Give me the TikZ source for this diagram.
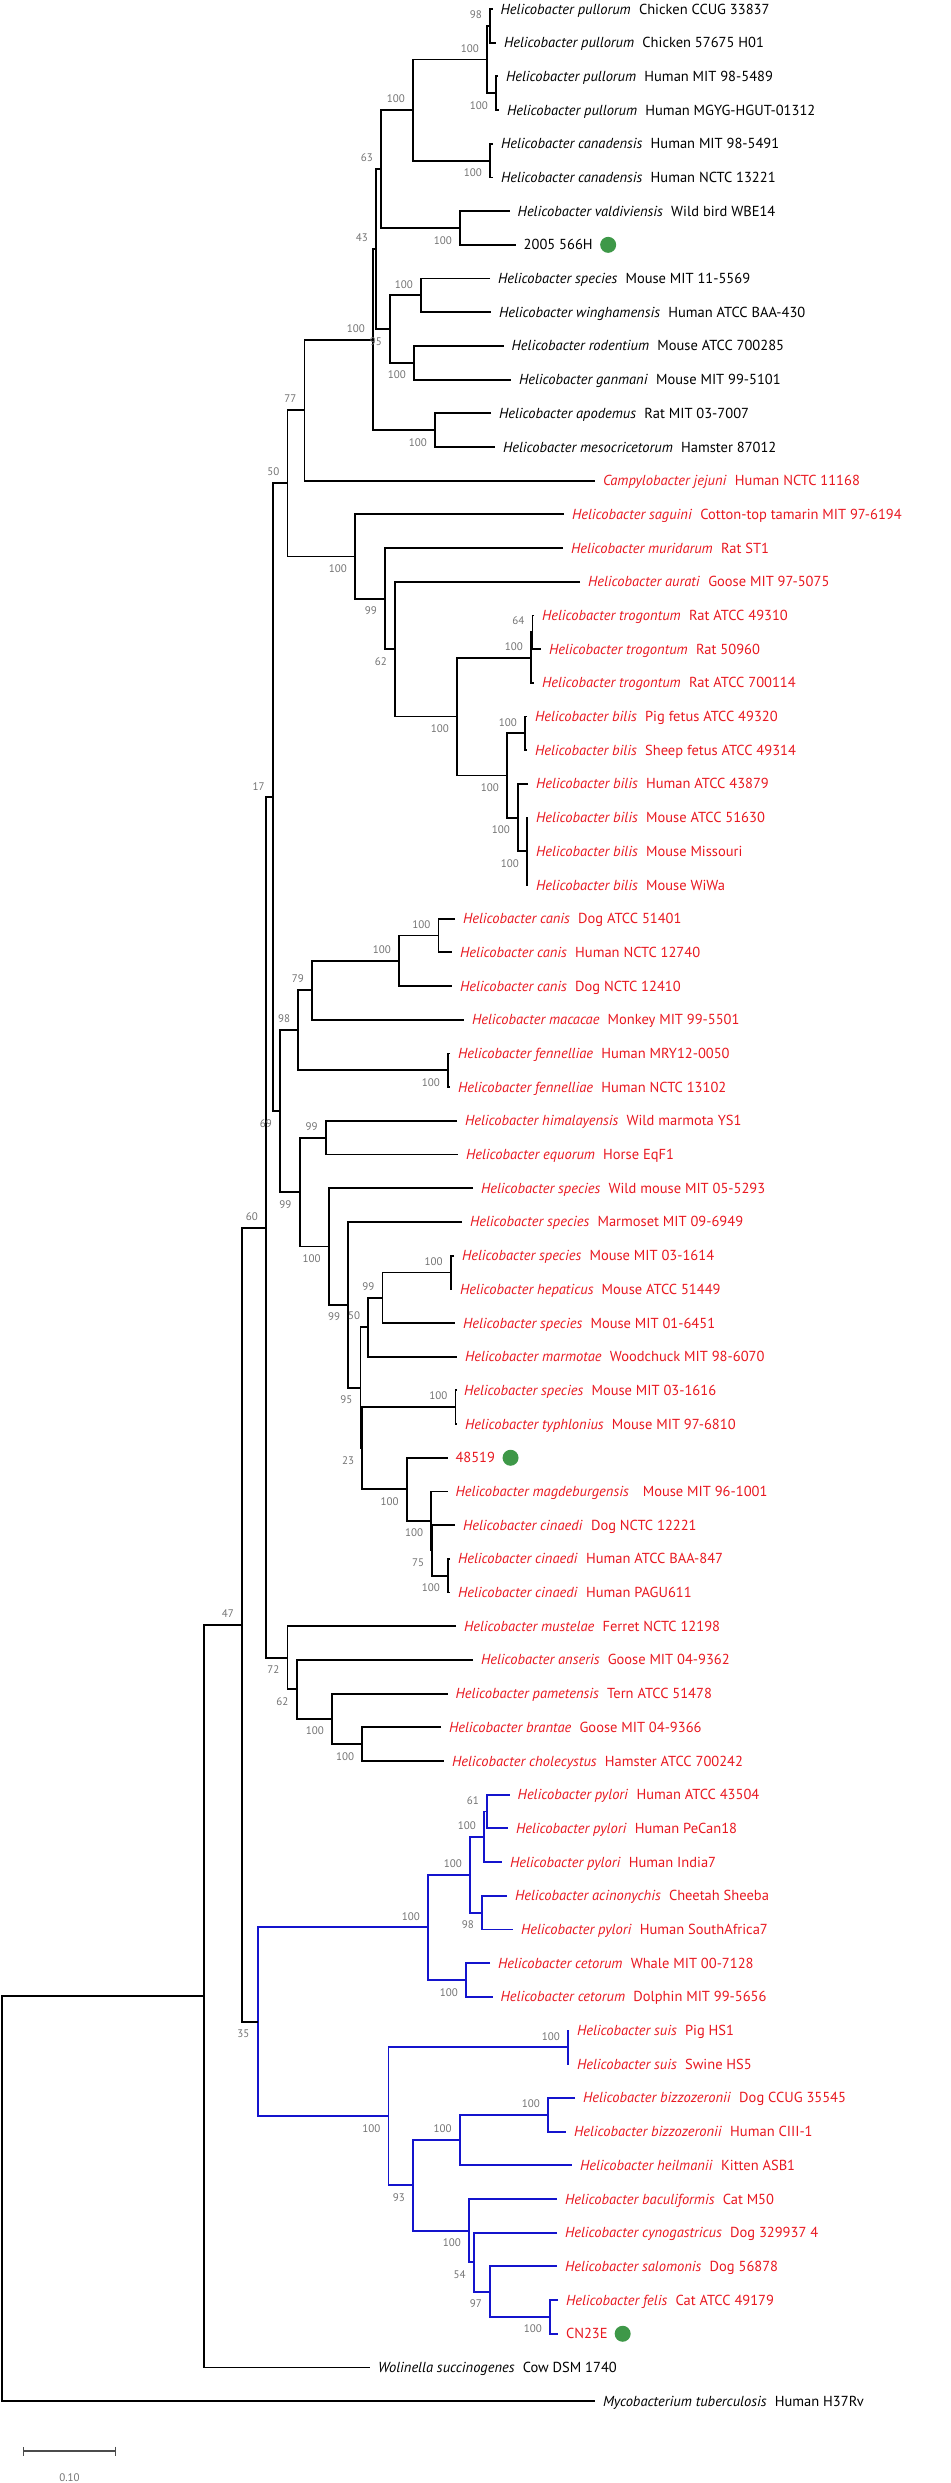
\documentclass[tikz,border=0pt]{standalone}
\usepackage{fontspec}
\setmainfont{PT Sans}
\usetikzlibrary{arrows.meta}
\definecolor{leafred}{RGB}{232,24,32}
\definecolor{cladeblue}{RGB}{20,20,205}
\definecolor{bsgray}{RGB}{115,115,115}
\definecolor{dotgreen}{RGB}{62,152,72}
\newcommand{\spn}[1]{\textit{#1}\hspace{0.3em}}
\begin{document}
\begin{tikzpicture}[x=1pt,y=-33.69pt,
  br/.style={line width=1.9pt},
  bbr/.style={br,cladeblue},
  leaf/.style={anchor=west,inner sep=0pt,outer xsep=8pt,outer ysep=0pt,text height=10pt,text depth=0pt,font=\fontsize{14.5}{16}\selectfont},
  rleaf/.style={leaf,text=leafred},
  bsbase/.style={inner sep=0pt,text=bsgray,font=\fontsize{11}{12}\selectfont},
  bsu/.style={bsbase,anchor=south east,xshift=-8pt,yshift=7pt},
  bsd/.style={bsbase,anchor=north east,xshift=-8pt,yshift=-8pt},
  gdot/.style={circle,fill=dotgreen,minimum size=16pt,inner sep=0pt},
  sbar/.style={line width=1.2pt,black!70,{Bar[width=9pt]}-{Bar[width=9pt]}}]
\useasboundingbox (0,0.733) rectangle (950,74.43);

% leaves
\node[leaf] (L1) at (492.6,1) {\spn{Helicobacter pullorum} Chicken CCUG 33837};
\node[leaf] (L2) at (496,2) {\spn{Helicobacter pullorum} Chicken 57675 H01};
\node[leaf] (L3) at (498,3) {\spn{Helicobacter pullorum} Human MIT 98-5489};
\node[leaf] (L4) at (499,4) {\spn{Helicobacter pullorum} Human MGYG-HGUT-01312};
\node[leaf] (L5) at (493,5) {\spn{Helicobacter canadensis} Human MIT 98-5491};
\node[leaf] (L6) at (493,6) {\spn{Helicobacter canadensis} Human NCTC 13221};
\node[leaf] (L7) at (509.7,7) {\spn{Helicobacter valdiviensis} Wild bird WBE14};
\node[leaf] (L8) at (515.7,8) {2005 566H};
\node[leaf] (L9) at (490,9) {\spn{Helicobacter species} Mouse MIT 11-5569};
\node[leaf] (L10) at (491,10) {\spn{Helicobacter winghamensis} Human ATCC BAA-430};
\node[leaf] (L11) at (503.6,11) {\spn{Helicobacter rodentium} Mouse ATCC 700285};
\node[leaf] (L12) at (511,12) {\spn{Helicobacter ganmani} Mouse MIT 99-5101};
\node[leaf] (L13) at (491,13) {\spn{Helicobacter apodemus} Rat MIT 03-7007};
\node[leaf] (L14) at (495,14) {\spn{Helicobacter mesocricetorum} Hamster 87012};
\node[rleaf] (L15) at (595,15) {\spn{Campylobacter jejuni} Human NCTC 11168};
\node[rleaf] (L16) at (564,16) {\spn{Helicobacter saguini} Cotton-top tamarin MIT 97-6194};
\node[rleaf] (L17) at (563,17) {\spn{Helicobacter muridarum} Rat ST1};
\node[rleaf] (L18) at (580,18) {\spn{Helicobacter aurati} Goose MIT 97-5075};
\node[rleaf] (L19) at (534,19) {\spn{Helicobacter trogontum} Rat ATCC 49310};
\node[rleaf] (L20) at (541,20) {\spn{Helicobacter trogontum} Rat 50960};
\node[rleaf] (L21) at (534,21) {\spn{Helicobacter trogontum} Rat ATCC 700114};
\node[rleaf] (L22) at (527,22) {\spn{Helicobacter bilis} Pig fetus ATCC 49320};
\node[rleaf] (L23) at (527,23) {\spn{Helicobacter bilis} Sheep fetus ATCC 49314};
\node[rleaf] (L24) at (528,24) {\spn{Helicobacter bilis} Human ATCC 43879};
\node[rleaf] (L25) at (528,25) {\spn{Helicobacter bilis} Mouse ATCC 51630};
\node[rleaf] (L26) at (528,26) {\spn{Helicobacter bilis} Mouse Missouri};
\node[rleaf] (L27) at (528,27) {\spn{Helicobacter bilis} Mouse WiWa};
\node[rleaf] (L28) at (455,28) {\spn{Helicobacter canis} Dog ATCC 51401};
\node[rleaf] (L29) at (452,29) {\spn{Helicobacter canis} Human NCTC 12740};
\node[rleaf] (L30) at (452,30) {\spn{Helicobacter canis} Dog NCTC 12410};
\node[rleaf] (L31) at (464,31) {\spn{Helicobacter macacae} Monkey MIT 99-5501};
\node[rleaf] (L32) at (450,32) {\spn{Helicobacter fennelliae} Human MRY12-0050};
\node[rleaf] (L33) at (450,33) {\spn{Helicobacter fennelliae} Human NCTC 13102};
\node[rleaf] (L34) at (457,34) {\spn{Helicobacter himalayensis} Wild marmota YS1};
\node[rleaf] (L35) at (458,35) {\spn{Helicobacter equorum} Horse EqF1};
\node[rleaf] (L36) at (473,36) {\spn{Helicobacter species} Wild mouse MIT 05-5293};
\node[rleaf] (L37) at (462,37) {\spn{Helicobacter species} Marmoset MIT 09-6949};
\node[rleaf] (L38) at (454,38) {\spn{Helicobacter species} Mouse MIT 03-1614};
\node[rleaf] (L39) at (452,39) {\spn{Helicobacter hepaticus} Mouse ATCC 51449};
\node[rleaf] (L40) at (455,40) {\spn{Helicobacter species} Mouse MIT 01-6451};
\node[rleaf] (L41) at (457,41) {\spn{Helicobacter marmotae} Woodchuck MIT 98-6070};
\node[rleaf] (L42) at (456,42) {\spn{Helicobacter species} Mouse MIT 03-1616};
\node[rleaf] (L43) at (457,43) {\spn{Helicobacter typhlonius} Mouse MIT 97-6810};
\node[rleaf] (L44) at (447.5,44) {48519};
\node[rleaf] (L45) at (447.5,45) {\spn{Helicobacter magdeburgensis}\hspace{0.4em} Mouse MIT 96-1001};
\node[rleaf] (L46) at (455,46) {\spn{Helicobacter cinaedi} Dog NCTC 12221};
\node[rleaf] (L47) at (450,47) {\spn{Helicobacter cinaedi} Human ATCC BAA-847};
\node[rleaf] (L48) at (450,48) {\spn{Helicobacter cinaedi} Human PAGU611};
\node[rleaf] (L49) at (456,49) {\spn{Helicobacter mustelae} Ferret NCTC 12198};
\node[rleaf] (L50) at (473,50) {\spn{Helicobacter anseris} Goose MIT 04-9362};
\node[rleaf] (L51) at (447.5,51) {\spn{Helicobacter pametensis} Tern ATCC 51478};
\node[rleaf] (L52) at (441,52) {\spn{Helicobacter brantae} Goose MIT 04-9366};
\node[rleaf] (L53) at (444,53) {\spn{Helicobacter cholecystus} Hamster ATCC 700242};
\node[rleaf] (L54) at (509.7,54) {\spn{Helicobacter pylori} Human ATCC 43504};
\node[rleaf] (L55) at (508,55) {\spn{Helicobacter pylori} Human PeCan18};
\node[rleaf] (L56) at (502,56) {\spn{Helicobacter pylori} Human India7};
\node[rleaf] (L57) at (507,57) {\spn{Helicobacter acinonychis} Cheetah Sheeba};
\node[rleaf] (L58) at (513,58) {\spn{Helicobacter pylori} Human SouthAfrica7};
\node[rleaf] (L59) at (490,59) {\spn{Helicobacter cetorum} Whale MIT 00-7128};
\node[rleaf] (L60) at (492.6,60) {\spn{Helicobacter cetorum} Dolphin MIT 99-5656};
\node[rleaf] (L61) at (569,61) {\spn{Helicobacter suis} Pig HS1};
\node[rleaf] (L62) at (569,62) {\spn{Helicobacter suis} Swine HS5};
\node[rleaf] (L63) at (575,63) {\spn{Helicobacter bizzozeronii} Dog CCUG 35545};
\node[rleaf] (L64) at (566,64) {\spn{Helicobacter bizzozeronii} Human CIII-1};
\node[rleaf] (L65) at (572,65) {\spn{Helicobacter heilmanii} Kitten ASB1};
\node[rleaf] (L66) at (557,66) {\spn{Helicobacter baculiformis} Cat M50};
\node[rleaf] (L67) at (557,67) {\spn{Helicobacter cynogastricus} Dog 329937 4};
\node[rleaf] (L68) at (557,68) {\spn{Helicobacter salomonis} Dog 56878};
\node[rleaf] (L69) at (558,69) {\spn{Helicobacter felis} Cat ATCC 49179};
\node[rleaf] (L70) at (558,70) {CN23E};
\node[leaf] (L71) at (370,71) {\spn{Wolinella succinogenes} Cow DSM 1740};
\node[leaf] (L72) at (595,72) {\spn{Mycobacterium tuberculosis} Human H37Rv};

\node[gdot] (G8) at ([xshift=7.5pt]L8.east) {};
\node[gdot] (G44) at ([xshift=7.5pt]L44.east) {};
\node[gdot] (G70) at ([xshift=7pt]L70.east) {};

% inner nodes
\coordinate (P12) at (490,1.5);
\coordinate (P34) at (496,3.5);
\coordinate (P14) at (487,2.5);
\coordinate (C56) at (490,5.5);
\coordinate (PC) at (413,4);
\coordinate (VH) at (460,7.5);
\coordinate (X63) at (381,5.75);
\coordinate (Nsw) at (421,9.5);
\coordinate (Nrg) at (414,11.5);
\coordinate (N95a) at (390,10.5);
\coordinate (N43) at (376,8.125);
\coordinate (Nam) at (435,13.5);
\coordinate (N100a) at (373,10.8125);
\coordinate (N77) at (304.5,12.906);
\coordinate (N64) at (532.5,19.5);
\coordinate (N100t) at (531,20.25);
\coordinate (Npf) at (525,22.5);
\coordinate (N100m) at (527,26);
\coordinate (N100h) at (518,25);
\coordinate (N100b) at (507,23.75);
\coordinate (N100tb) at (457,22);
\coordinate (N62a) at (395,20);
\coordinate (N99m) at (385,18.5);
\coordinate (N100s) at (355,17.25);
\coordinate (N50) at (287.5,15.078);
\coordinate (N100c1) at (438.5,28.5);
\coordinate (N100c) at (399,29.25);
\coordinate (N79) at (312,30.125);
\coordinate (Nfen) at (448,32.5);
\coordinate (N98b) at (298.4,31.3125);
\coordinate (N99h) at (325.8,34.5);
\coordinate (N100sh) at (450.7,38.5);
\coordinate (N99d) at (382.5,39.25);
\coordinate (N50b) at (368.4,40.125);
\coordinate (N100st) at (455.5,42.5);
\coordinate (N75ci) at (448,47.5);
\coordinate (Nci) at (432.4,46.75);
\coordinate (N100mc) at (431.2,45.875);
\coordinate (N100z) at (406.8,44.9375);
\coordinate (N23) at (362.3,43.719);
\coordinate (N95b) at (360.5,41.922);
\coordinate (N99c) at (348.3,39.461);
\coordinate (N100sp) at (328.9,37.73);
\coordinate (N99b) at (299.6,36.115);
\coordinate (N69) at (280,33.714);
\coordinate (N17) at (272.8,24.396);
\coordinate (N100bc) at (362.4,52.5);
\coordinate (N100pb) at (332,51.75);
\coordinate (N62b) at (296.6,50.875);
\coordinate (N72) at (287.5,49.9375);
\coordinate (C) at (266,37.167);
\coordinate (N61) at (487,54.5);
\coordinate (N100pp) at (484,55.25);
\coordinate (N98a) at (482,57.5);
\coordinate (N100py) at (470,56.375);
\coordinate (Ncet) at (466,59.5);
\coordinate (Nhp) at (428,57.9375);
\coordinate (N100suis) at (568,61.5);
\coordinate (N100bz) at (548,63.5);
\coordinate (N100bh) at (459.8,64.25);
\coordinate (N100fc) at (550,69.5);
\coordinate (N97) at (490,68.75);
\coordinate (N54) at (473.8,67.875);
\coordinate (N100bcsf) at (469,66.9375);
\coordinate (N93) at (413,65.594);
\coordinate (Nhs) at (388.5,63.547);
\coordinate (D) at (257.6,60.742);
\coordinate (B) at (242,48.954);
\coordinate (A) at (204,59.977);
\coordinate (R) at (2,65.989);

% branches
\draw[br] (L1) -| (P12) |- (L2);
\draw[br] (L3) -| (P34) |- (L4);
\draw[br] (P12) -| (P14) |- (P34);
\draw[br] (L5) -| (C56) |- (L6);
\draw[br] (P14) -| (PC) |- (C56);
\draw[br] (L7) -| (VH) |- (L8);
\draw[br] (PC) -| (X63) |- (VH);
\draw[br] (L9) -| (Nsw) |- (L10);
\draw[br] (L11) -| (Nrg) |- (L12);
\draw[br] (Nsw) -| (N95a) |- (Nrg);
\draw[br] (X63) -| (N43) |- (N95a);
\draw[br] (L13) -| (Nam) |- (L14);
\draw[br] (N43) -| (N100a) |- (Nam);
\draw[br] (N100a) -| (N77) |- (L15);
\draw[br] (L19) -| (N64) |- (L20);
\draw[br] (N64) -| (N100t) |- (L21);
\draw[br] (L22) -| (Npf) |- (L23);
\draw[br] (L25) -| (N100m) |- (L27);
\draw[br] (N100m) -- (L26);
\draw[br] (L24) -| (N100h) |- (N100m);
\draw[br] (Npf) -| (N100b) |- (N100h);
\draw[br] (N100t) -| (N100tb) |- (N100b);
\draw[br] (L18) -| (N62a) |- (N100tb);
\draw[br] (L17) -| (N99m) |- (N62a);
\draw[br] (L16) -| (N100s) |- (N99m);
\draw[br] (N77) -| (N50) |- (N100s);
\draw[br] (L28) -| (N100c1) |- (L29);
\draw[br] (N100c1) -| (N100c) |- (L30);
\draw[br] (N100c) -| (N79) |- (L31);
\draw[br] (L32) -| (Nfen) |- (L33);
\draw[br] (N79) -| (N98b) |- (Nfen);
\draw[br] (L34) -| (N99h) |- (L35);
\draw[br] (L38) -| (N100sh) |- (L39);
\draw[br] (N100sh) -| (N99d) |- (L40);
\draw[br] (N99d) -| (N50b) |- (L41);
\draw[br] (L42) -| (N100st) |- (L43);
\draw[br] (L47) -| (N75ci) |- (L48);
\draw[br] (L46) -| (Nci) |- (N75ci);
\draw[br] (L45) -| (N100mc) |- (Nci);
\draw[br] (L44) -| (N100z) |- (N100mc);
\draw[br] (N100st) -| (N23) |- (N100z);
\draw[br] (N50b) -| (N95b) |- (N23);
\draw[br] (L37) -| (N99c) |- (N95b);
\draw[br] (L36) -| (N100sp) |- (N99c);
\draw[br] (N99h) -| (N99b) |- (N100sp);
\draw[br] (N98b) -| (N69) |- (N99b);
\draw[br] (N50) -| (N17) |- (N69);
\draw[br] (L52) -| (N100bc) |- (L53);
\draw[br] (L51) -| (N100pb) |- (N100bc);
\draw[br] (L50) -| (N62b) |- (N100pb);
\draw[br] (L49) -| (N72) |- (N62b);
\draw[br] (N17) -| (C) |- (N72);
\draw[bbr] (L54) -| (N61) |- (L55);
\draw[bbr] (N61) -| (N100pp) |- (L56);
\draw[bbr] (L57) -| (N98a) |- (L58);
\draw[bbr] (N100pp) -| (N100py) |- (N98a);
\draw[bbr] (L59) -| (Ncet) |- (L60);
\draw[bbr] (N100py) -| (Nhp) |- (Ncet);
\draw[bbr] (L61) -| (N100suis) |- (L62);
\draw[bbr] (L63) -| (N100bz) |- (L64);
\draw[bbr] (N100bz) -| (N100bh) |- (L65);
\draw[bbr] (L69) -| (N100fc) |- (L70);
\draw[bbr] (L68) -| (N97) |- (N100fc);
\draw[bbr] (L67) -| (N54) |- (N97);
\draw[bbr] (L66) -| (N100bcsf) |- (N54);
\draw[bbr] (N100bh) -| (N93) |- (N100bcsf);
\draw[bbr] (N100suis) -| (Nhs) |- (N93);
\draw[bbr] (Nhp) -| (D) |- (Nhs);
\draw[br] (C) -| (B) |- (D);
\draw[br] (B) -| (A) |- (L71);
\draw[br] (A) -| (R) |- (L72);

% bootstrap values
\node[bsu] at (P12) {98};
\node[bsd] at (P34) {100};
\node[bsu] at (P14) {100};
\node[bsd] at (C56) {100};
\node[bsu] at (PC) {100};
\node[bsd] at (VH) {100};
\node[bsu] at (X63) {63};
\node[bsu] at (Nsw) {100};
\node[bsd] at (Nrg) {100};
\node[bsd] at (N95a) {95};
\node[bsu] at (N43) {43};
\node[bsd] at (Nam) {100};
\node[bsu] at (N100a) {100};
\node[bsu] at (N77) {77};
\node[bsu] at (N50) {50};
\node[bsu] at (N17) {17};
\node[bsu] at (C) {60};
\node[bsu] at (B) {47};
\node[bsu] at (N64) {64};
\node[bsu] at (N100t) {100};
\node[bsu] at (Npf) {100};
\node[bsd] at (N100m) {100};
\node[bsd] at (N100h) {100};
\node[bsd] at (N100b) {100};
\node[bsd] at (N100tb) {100};
\node[bsd] at (N62a) {62};
\node[bsd] at (N99m) {99};
\node[bsd] at (N100s) {100};
\node[bsu] at (N100c1) {100};
\node[bsu] at (N100c) {100};
\node[bsu] at (N79) {79};
\node[bsd] at (Nfen) {100};
\node[bsu] at (N98b) {98};
\node[bsu] at (N99h) {99};
\node[bsu] at (N100sh) {100};
\node[bsu] at (N99d) {99};
\node[bsu] at (N50b) {50};
\node[bsu] at (N100st) {100};
\node[bsd] at (N75ci) {100};
\node[bsd] at (Nci) {75};
\node[bsd] at (N100mc) {100};
\node[bsd] at (N100z) {100};
\node[bsd] at (N23) {23};
\node[bsd] at (N95b) {95};
\node[bsd] at (N99c) {99};
\node[bsd] at (N100sp) {100};
\node[bsd] at (N99b) {99};
\node[bsd] at (N69) {69};
\node[bsd] at (N100bc) {100};
\node[bsd] at (N100pb) {100};
\node[bsd] at (N62b) {62};
\node[bsd] at (N72) {72};
\node[bsu] at (N61) {61};
\node[bsu] at (N100pp) {100};
\node[bsd] at (N98a) {98};
\node[bsu] at (N100py) {100};
\node[bsd] at (Ncet) {100};
\node[bsu] at (Nhp) {100};
\node[bsu] at (N100suis) {100};
\node[bsu] at (N100bz) {100};
\node[bsu] at (N100bh) {100};
\node[bsd] at (N100fc) {100};
\node[bsd] at (N97) {97};
\node[bsd] at (N54) {54};
\node[bsd] at (N100bcsf) {100};
\node[bsd] at (N93) {93};
\node[bsd] at (Nhs) {100};
\node[bsd] at (D) {35};

% scale bar
\coordinate (sbL) at (23,73.48);
\coordinate (sbR) at (116,73.48);
\draw[sbar] (sbL) -- (sbR);
\node[bsbase] (sbT) at (69.5,74.28) {0.10};
\end{tikzpicture}
\end{document}
